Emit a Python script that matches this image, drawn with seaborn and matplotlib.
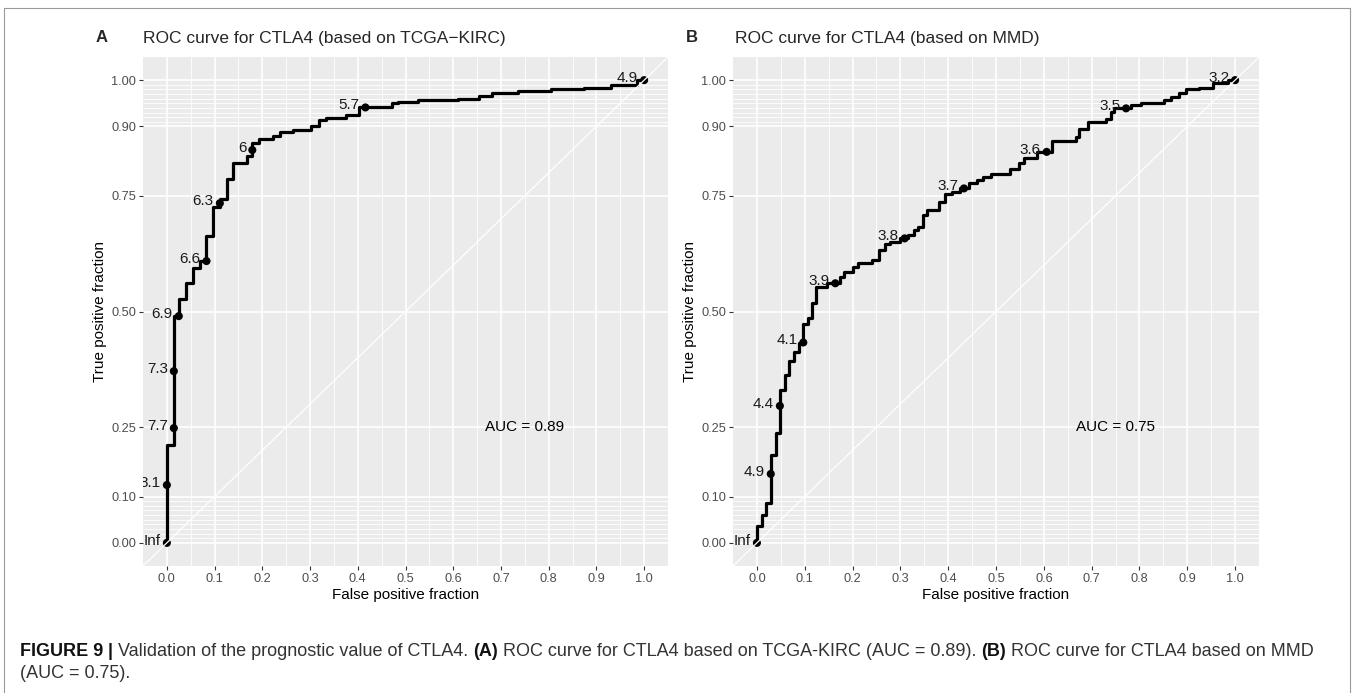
import numpy as np
import pandas as pd
import matplotlib
matplotlib.use("Agg")
import matplotlib.pyplot as plt
import seaborn as sns
from matplotlib.patches import Rectangle

# ---------------- data ----------------
# Panel A (TCGA-KIRC): ROC step vertices (false positive fraction, true positive fraction)
a_fpf = [0.0, 0.0146, 0.025, 0.041, 0.055, 0.069, 0.083, 0.097, 0.111, 0.125, 0.139,
         0.167, 0.179, 0.193, 0.222, 0.236, 0.264, 0.303, 0.319, 0.333, 0.376, 0.402,
         0.472, 0.484, 0.526, 0.609, 0.655, 0.681, 0.735, 0.805, 0.874, 0.930, 0.986, 1.0]
a_tpf = [0.0, 0.212, 0.490, 0.528, 0.561, 0.595, 0.609, 0.663, 0.726, 0.744, 0.786,
         0.820, 0.837, 0.865, 0.872, 0.879, 0.888, 0.893, 0.900, 0.914, 0.919, 0.924,
         0.941, 0.950, 0.953, 0.957, 0.960, 0.965, 0.973, 0.977, 0.981, 0.984, 0.990, 1.0]
a_cut_fpf = [0.0, 0.0, 0.0146, 0.0146, 0.025, 0.083, 0.111, 0.179, 0.416, 1.0]
a_cut_tpf = [0.0, 0.125, 0.248, 0.371, 0.490, 0.609, 0.734, 0.849, 0.941, 1.0]
a_cut_labels = ["Inf", "8.1", "7.7", "7.3", "6.9", "6.6", "6.3", "6", "5.7", "4.9"]
a_title = "ROC curve for CTLA4 (based on TCGA\u2212KIRC)"
a_auc = "AUC = 0.89"

# Panel B (MMD)
b_fpf = [0.0, 0.010, 0.019, 0.029, 0.039, 0.048, 0.059, 0.068, 0.078, 0.088, 0.097,
         0.107, 0.115, 0.124, 0.147, 0.173, 0.183, 0.201, 0.212, 0.240, 0.256, 0.268,
         0.278, 0.300, 0.317, 0.328, 0.336, 0.347, 0.356, 0.380, 0.394, 0.408, 0.424,
         0.443, 0.461, 0.473, 0.490, 0.530, 0.548, 0.558, 0.586, 0.618, 0.667, 0.674,
         0.693, 0.730, 0.741, 0.746, 0.782, 0.803, 0.852, 0.866, 0.883, 0.897, 0.925,
         0.953, 0.985, 1.0]
b_tpf = [0.0, 0.037, 0.060, 0.087, 0.190, 0.238, 0.330, 0.363, 0.392, 0.412, 0.433,
         0.474, 0.487, 0.518, 0.554, 0.561, 0.575, 0.585, 0.597, 0.605, 0.611, 0.633,
         0.646, 0.651, 0.658, 0.665, 0.676, 0.683, 0.708, 0.719, 0.737, 0.754, 0.759,
         0.766, 0.777, 0.785, 0.791, 0.798, 0.809, 0.820, 0.832, 0.845, 0.868, 0.878,
         0.894, 0.910, 0.915, 0.932, 0.939, 0.947, 0.951, 0.957, 0.964, 0.973, 0.980,
         0.984, 0.993, 1.0]
b_cut_fpf = [0.0, 0.029, 0.048, 0.097, 0.164, 0.309, 0.433, 0.606, 0.772, 1.0]
b_cut_tpf = [0.0, 0.149, 0.296, 0.433, 0.561, 0.658, 0.766, 0.845, 0.939, 1.0]
b_cut_labels = ["Inf", "4.9", "4.4", "4.1", "3.9", "3.8", "3.7", "3.6", "3.5", "3.2"]
b_title = "ROC curve for CTLA4 (based on MMD)"
b_auc = "AUC = 0.75"

x_breaks = [0.0, 0.1, 0.2, 0.3, 0.4, 0.5, 0.6, 0.7, 0.8, 0.9, 1.0]
x_labels = ["0.0", "0.1", "0.2", "0.3", "0.4", "0.5", "0.6", "0.7", "0.8", "0.9", "1.0"]
y_breaks = [0.0, 0.1, 0.25, 0.5, 0.75, 0.9, 1.0]
y_labels = ["0.00", "0.10", "0.25", "0.50", "0.75", "0.90", "1.00"]
x_minor = [0.05, 0.15, 0.25, 0.35, 0.45, 0.55, 0.65, 0.75, 0.85, 0.95]
y_minor = [0.01, 0.02, 0.03, 0.04, 0.05, 0.06, 0.07, 0.08, 0.09,
           0.91, 0.92, 0.93, 0.94, 0.95, 0.96, 0.97, 0.98, 0.99]

caption_line1 = [("FIGURE 9", True), (" | ", True),
                 ("Validation of the prognostic value of CTLA4. ", False),
                 ("(A)", True),
                 (" ROC curve for CTLA4 based on TCGA-KIRC (AUC = 0.89). ", False),
                 ("(B)", True),
                 (" ROC curve for CTLA4 based on MMD", False)]
caption_line2 = [("(AUC = 0.75).", False)]

# ---------------- style ----------------
sns.set_theme(style="darkgrid")
plt.rcParams['font.family'] = ['Liberation Sans', 'DejaVu Sans']

W, H = 1354, 693
fig = plt.figure(figsize=(W / 100, H / 100), dpi=100)


def px_axes(l, t, r, b):
    return fig.add_axes([l / W, 1 - b / H, (r - l) / W, (b - t) / H])


def draw_panel(ax, fpf, tpf, cfpf, ctpf, clab, auc):
    ax.set_facecolor('#EBEBEB')
    df = pd.DataFrame({'fpf': fpf, 'tpf': tpf})
    sns.lineplot(data=df, x='fpf', y='tpf', ax=ax, estimator=None, sort=False,
                 drawstyle='steps-pre', color='black', linewidth=2.3, zorder=3)
    cdf = pd.DataFrame({'fpf': cfpf, 'tpf': ctpf})
    sns.scatterplot(data=cdf, x='fpf', y='tpf', ax=ax, color='black', s=34,
                    edgecolor='none', linewidth=0, zorder=4)
    for x, y, lab in zip(cfpf, ctpf, clab):
        t = ax.annotate(lab, (x, y), xytext=(-4.3, -1.2), textcoords='offset points',
                        ha='right', va='baseline', fontsize=11, color='#1a1a1a',
                        zorder=5, annotation_clip=False)
        t.set_clip_on(True)
        t.set_clip_box(ax.bbox)
    ax.axline((0, 0), (1, 1), color='white', linewidth=0.9, zorder=6)
    ax.set_xlim(-0.05, 1.05)
    ax.set_ylim(-0.05, 1.05)
    ax.set_xticks(x_breaks)
    ax.set_xticklabels(x_labels)
    ax.set_yticks(y_breaks)
    ax.set_yticklabels(y_labels)
    ax.set_xticks(x_minor, minor=True)
    ax.set_yticks(y_minor, minor=True)
    ax.grid(which='major', color='white', linewidth=1.2)
    ax.grid(which='minor', color='white', linewidth=0.6)
    ax.tick_params(which='minor', length=0, left=False, bottom=False)
    ax.tick_params(which='major', length=2.75, width=0.8, color='#333333',
                   labelsize=9.2, labelcolor='#4D4D4D', pad=2.2, left=True, bottom=True)
    for s in ax.spines.values():
        s.set_visible(False)
    ax.set_xlabel('False positive fraction', fontsize=11, labelpad=2.5, color='black')
    ax.set_ylabel('True positive fraction', fontsize=11, labelpad=3, color='black')
    ax.text(0.75, 0.25, auc, ha='center', va='center', fontsize=11, color='black')


axA = px_axes(143, 57, 668, 566)
axB = px_axes(733, 57, 1259, 566)
draw_panel(axA, a_fpf, a_tpf, a_cut_fpf, a_cut_tpf, a_cut_labels, a_auc)
draw_panel(axB, b_fpf, b_tpf, b_cut_fpf, b_cut_tpf, b_cut_labels, b_auc)

# titles and panel letters
fig.text(102 / W, 1 - 38 / H, 'A', fontsize=12, fontweight='bold', ha='center', va='center')
fig.text(143 / W, 1 - 38 / H, a_title, fontsize=12.5, ha='left', va='center')
fig.text(692 / W, 1 - 38 / H, 'B', fontsize=12, fontweight='bold', ha='center', va='center')
fig.text(735 / W, 1 - 38 / H, b_title, fontsize=12.5, ha='left', va='center')

# border around the figure
fig.patches.append(Rectangle((4 / W, -20 / H), (1350 - 4) / W, (685 + 20) / H,
                             transform=fig.transFigure, fill=False,
                             edgecolor='#9a9a9a', linewidth=0.8))

# caption with mixed bold/regular text
renderer = fig.canvas.get_renderer()
cap_family = ['Liberation Sans Narrow', 'Liberation Sans', 'DejaVu Sans']


def rich_line(segments, x0, y, size):
    x = x0
    for txt, bold in segments:
        t = fig.text(x / W, 1 - y / H, txt, fontsize=size, family=cap_family,
                     fontweight='bold' if bold else 'normal',
                     color='#111111' if bold else '#333333', ha='left', va='center')
        bb = t.get_window_extent(renderer)
        x = bb.x1
    return x


# measure to fit the first line into its span
probe = 12.0
tmp = []
xx = 20
for txt, bold in caption_line1:
    t = fig.text(xx / W, 0.5, txt, fontsize=probe, family=cap_family,
                 fontweight='bold' if bold else 'normal')
    xx = t.get_window_extent(renderer).x1
    tmp.append(t)
for t in tmp:
    t.remove()
cap_size = probe * (1318 - 20) / (xx - 20)
cap_size = min(cap_size, 14.5)
rich_line(caption_line1, 20, 651, cap_size)
rich_line(caption_line2, 20, 673, cap_size)

fig.savefig('out.png', dpi=100)
